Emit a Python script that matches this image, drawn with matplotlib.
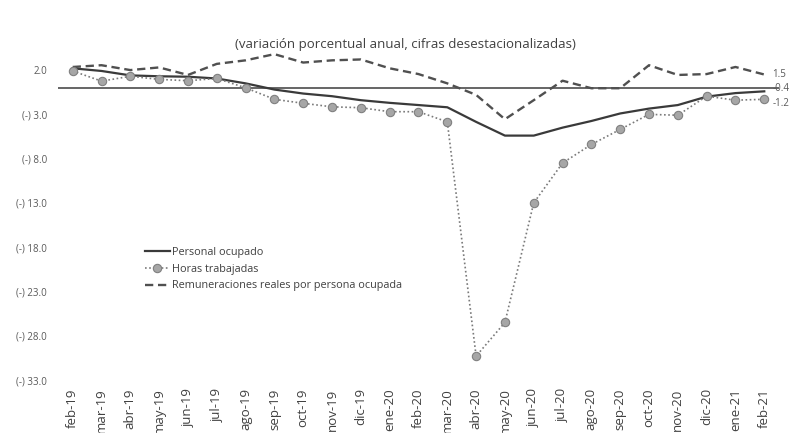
import matplotlib
matplotlib.use("Agg")
import matplotlib.pyplot as plt

months = ["feb-19", "mar-19", "abr-19", "may-19", "jun-19", "jul-19", "ago-19", "sep-19",
          "oct-19", "nov-19", "dic-19", "ene-20", "feb-20", "mar-20", "abr-20", "may-20",
          "jun-20", "jul-20", "ago-20", "sep-20", "oct-20", "nov-20", "dic-20", "ene-21", "feb-21"]

personal = [2.2, 1.9, 1.4, 1.3, 1.25, 1.05, 0.5, -0.2, -0.65, -0.95, -1.4, -1.7,
            -1.95, -2.2, -3.85, -5.4, -5.4, -4.5, -3.75, -2.9, -2.35, -1.95, -1.0, -0.6, -0.4]
horas = [1.9, 0.75, 1.3, 0.95, 0.8, 1.05, 0.0, -1.3, -1.75, -2.15, -2.25, -2.7,
         -2.7, -3.85, -30.3, -26.5, -13.0, -8.5, -6.4, -4.7, -3.0, -3.1, -0.95, -1.4, -1.3]
remun = [2.35, 2.55, 2.0, 2.3, 1.45, 2.7, 3.1, 3.8, 2.85, 3.1, 3.2, 2.2,
         1.55, 0.5, -0.8, -3.55, -1.4, 0.8, -0.05, -0.05, 2.55, 1.45, 1.55, 2.35, 1.5]

yticks = [2, -3, -8, -13, -18, -23, -28, -33]
ytick_labels = ["2.0", "(-) 3.0", "(-) 8.0", "(-) 13.0", "(-) 18.0", "(-) 23.0", "(-) 28.0", "(-) 33.0"]
end_labels = ["-0.4", "-1.2", "1.5"]

plt.rcParams['font.family'] = ['Open Sans', 'DejaVu Sans']

fig = plt.figure(figsize=(7.94, 4.33), dpi=100)
ax = fig.add_axes([0.0734, 0.1224, 0.9073, 0.818])

x = list(range(len(months)))
ax.axhline(0, color="#595959", lw=1.3, zorder=1)
ax.plot(x, personal, color="#3a3a3a", lw=1.6, label="Personal ocupado", zorder=3)
ax.plot(x, horas, color="#7a7a7a", lw=1.2, ls=(0, (1, 1.5)), marker="o", markersize=6,
        markerfacecolor="#a6a6a6", markeredgecolor="#808080", markeredgewidth=0.8,
        label="Horas trabajadas", zorder=4)
ax.plot(x, remun, color="#505050", lw=1.7, ls=(0, (3.5, 2)),
        label="Remuneraciones reales por persona ocupada", zorder=2)

ax.set_xlim(-0.5, len(months) - 0.5)
ax.set_ylim(-33, 7)
ax.set_xticks(x)
ax.set_xticklabels(months, rotation=90, fontsize=9.5, color="#404040")
ax.set_yticks(yticks)
ax.set_yticklabels(ytick_labels, fontsize=7, color="#595959")
ax.tick_params(axis="both", length=0)
ax.tick_params(axis="x", pad=6)
ax.tick_params(axis="y", pad=8)
for s in ax.spines.values():
    s.set_visible(False)

last = len(months) - 1
for val, lab, dy in [(personal[last], end_labels[0], 2), (horas[last], end_labels[1], -3),
                     (remun[last], end_labels[2], 0)]:
    ax.annotate(lab, (last, val), xytext=(6, dy), textcoords="offset points",
                fontsize=7, color="#595959", va="center", ha="left", annotation_clip=False)

fig.text(0.51, 0.897, "(variación porcentual anual, cifras desestacionalizadas)",
         ha="center", va="center", fontsize=9.5, color="#404040")

leg = ax.legend(loc="upper left", bbox_to_anchor=(0.12, 0.375), frameon=False,
                fontsize=7.8, handlelength=2.3, handletextpad=0.2, labelspacing=0.52,
                borderaxespad=0, borderpad=0)
for t in leg.get_texts():
    t.set_color("#404040")

fig.savefig("out.png", dpi=100)
